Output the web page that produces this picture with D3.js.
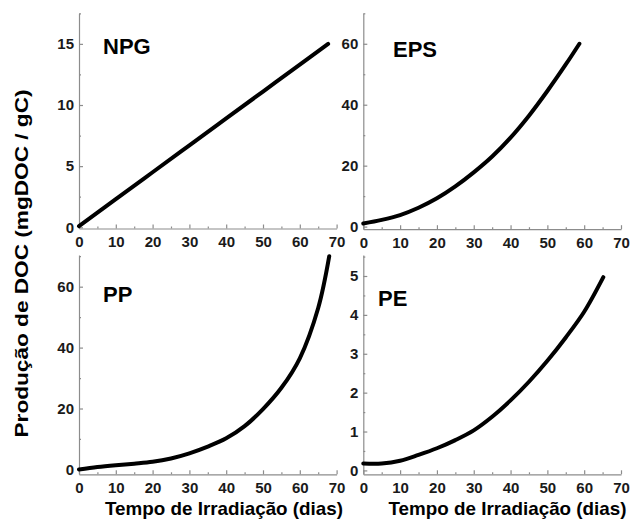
<!DOCTYPE html>
<html><head><meta charset="utf-8">
<script src="https://cdn.jsdelivr.net/npm/d3@7"></script>
<style>body{margin:0;background:#fff;} text{font-family:"Liberation Sans",Arial,sans-serif;font-weight:bold;}</style>
</head><body>
<svg id="c" width="631" height="520"></svg>
<script>
// Data
const npgX = [0, 10, 20, 30, 40, 50, 60, 67.7];
const npgY = [0.1, 2.3, 4.5, 6.7, 8.9, 11.1, 13.3, 15];
const epsX = [0, 5, 10, 15, 20, 25, 30, 35, 40, 45, 50, 55, 58.7];
const epsY = [1, 2.2, 3.8, 6.2, 9.3, 13.2, 17.8, 23, 29.2, 36.4, 44.5, 53.2, 60];
const ppX = [0, 5, 10, 15, 20, 25, 30, 35, 40, 45, 50, 55, 60, 65, 68];
const ppY = [0, 0.8, 1.4, 1.9, 2.5, 3.6, 5.3, 7.5, 10.2, 14.2, 19.8, 26.8, 36.5, 53, 70];
const peX = [0, 5, 10, 15, 20, 25, 30, 35, 40, 45, 50, 55, 60, 65.2];
const peY = [0.18, 0.18, 0.25, 0.4, 0.57, 0.78, 1.03, 1.38, 1.8, 2.28, 2.82, 3.42, 4.08, 4.97];
const panelLabels = ["NPG", "EPS", "PP", "PE"];
const xTicks = [0, 10, 20, 30, 40, 50, 60, 70];
const xMinor = [5, 15, 25, 35, 45, 55, 65];
const yTicksList = [[0, 5, 10, 15], [0, 20, 40, 60], [0, 20, 40, 60], [0, 1, 2, 3, 4, 5]];
const yMinorList = [[2.5, 7.5, 12.5, 17.5], [10, 30, 50, 70], [10, 30, 50, 70], [0.5, 1.5, 2.5, 3.5, 4.5, 5.5]];
const yDomains = [[-0.1, 17.5], [-0.85, 70], [-1.6, 70.4], [-0.1, 5.54]];
const yTitle = "Produção de DOC (mgDOC / gC)";
const xTitle = "Tempo de Irradiação (dias)";

const series = [[npgX, npgY], [epsX, epsY], [ppX, ppY], [peX, peY]];
const frames = [
  {x0: 79, x1: 336.6, y0: 228.5, y1: 13.3, lx: 103, ly: 54},
  {x0: 363.3, x1: 621, y0: 229.2, y1: 13.3, lx: 393, ly: 56.5},
  {x0: 79, x1: 336.6, y0: 474.3, y1: 255, lx: 103, ly: 301.5},
  {x0: 363.3, x1: 621, y0: 474.3, y1: 255, lx: 378, ly: 306}
];
const svg = d3.select("#c");
const axisCol = "#8c8c8c";

frames.forEach((f, i) => {
  const x = d3.scaleLinear().domain([0, 70]).range([f.x0, f.x1]);
  const y = d3.scaleLinear().domain(yDomains[i]).range([f.y0, f.y1]);
  const g = svg.append("g");
  g.append("g").attr("transform", `translate(0,${f.y0})`)
    .call(d3.axisBottom(x).tickValues(xMinor).tickSizeInner(-2).tickSizeOuter(0).tickFormat(""))
    .call(a => a.select(".domain").remove());
  g.append("g").attr("transform", `translate(${f.x0},0)`)
    .call(d3.axisLeft(y).tickValues(yMinorList[i]).tickSizeInner(-2).tickSizeOuter(0).tickFormat(""))
    .call(a => a.select(".domain").remove());
  g.append("g").attr("transform", `translate(0,${f.y0})`)
    .call(d3.axisBottom(x).tickValues(xTicks).tickSizeInner(-4).tickSizeOuter(0).tickPadding(8).tickFormat(d3.format("d")));
  g.append("g").attr("transform", `translate(${f.x0},0)`)
    .call(d3.axisLeft(y).tickValues(yTicksList[i]).tickSizeInner(-4).tickSizeOuter(0).tickPadding(5).tickFormat(d3.format("d")));
  g.selectAll(".domain").attr("stroke", axisCol).attr("stroke-width", 1.2);
  g.selectAll(".tick line").attr("stroke", axisCol).attr("stroke-width", 1.2);
  g.selectAll(".tick text").attr("fill", "#1a1a1a").style("font-size", "15px").style("font-weight", "bold")
    .style("font-family", '"Liberation Sans",Arial,sans-serif');
  const [xs, ys] = series[i];
  const pts = xs.map((v, k) => [v, ys[k]]);
  g.append("path").datum(pts)
    .attr("fill", "none").attr("stroke", "#000").attr("stroke-width", 4).attr("stroke-linecap", "round")
    .attr("d", d3.line().x(d => x(d[0])).y(d => y(d[1])).curve(d3.curveCatmullRom.alpha(0.5)));
  g.append("text").attr("x", f.lx).attr("y", f.ly).text(panelLabels[i])
    .style("font-size", "22px").attr("fill", "#000");
});

svg.append("text").attr("transform", "translate(28,263.5) rotate(-90)")
  .attr("text-anchor", "middle").style("font-size", "19px").attr("fill", "#000")
  .attr("textLength", 348).attr("lengthAdjust", "spacingAndGlyphs").text(yTitle);
[224, 507.5].forEach(cx => {
  svg.append("text").attr("x", cx).attr("y", 515).attr("text-anchor", "middle")
    .style("font-size", "18.5px").attr("fill", "#000")
    .attr("textLength", 238).attr("lengthAdjust", "spacingAndGlyphs").text(xTitle);
});
</script>
</body></html>
